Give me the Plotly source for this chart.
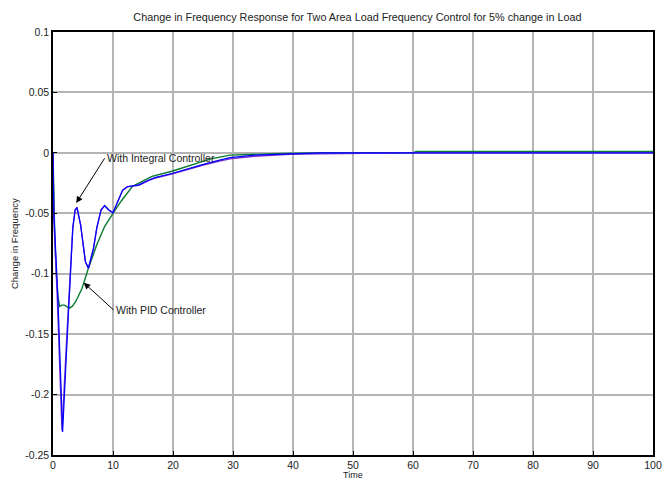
import plotly.graph_objects as go

# Integral controller (blue) response
t_int = [0, 0.15, 0.8, 1.6, 2.4, 2.95, 3.3, 3.7, 4.0, 4.6, 5.4, 5.9, 6.75, 7.3, 8.0, 8.6, 9.3,
         10.0, 10.8, 11.6, 12.4, 13.3, 14.3, 16.0, 17.0, 19.8, 22.2, 24.9, 27.6, 29.5, 33.6,
         39.5, 44.4, 50, 60, 70, 80, 90, 100]
f_int = [0, -0.05, -0.118, -0.231, -0.15, -0.1, -0.062, -0.047, -0.045, -0.0595, -0.09, -0.0955,
         -0.079, -0.062, -0.0473, -0.0437, -0.0473, -0.0495, -0.040, -0.031, -0.028, -0.0275,
         -0.0265, -0.0225, -0.0205, -0.0171, -0.0135, -0.0098, -0.0062, -0.0040, -0.0019,
         -0.0008, 0, 0, 0, 0, 0, 0, 0]

# Integral controller, second trace (purple)
t_int2 = [0, 0.1, 0.7, 1.5, 2.3, 2.9, 3.3, 3.7, 4.0, 4.6, 5.4, 5.9, 6.75, 7.3, 8.0, 8.6, 9.3,
          10.0, 10.8, 11.6, 12.4, 13.3, 14.3, 16.0, 17.0, 19.8, 22.2, 24.9, 27.6, 29.5, 33.6,
          39.5, 44.4, 50, 60, 70, 80, 90, 100]
f_int2 = [0, -0.05, -0.118, -0.230, -0.152, -0.1, -0.062, -0.047, -0.046, -0.0595, -0.09, -0.0955,
          -0.079, -0.062, -0.0473, -0.0437, -0.0473, -0.0495, -0.040, -0.031, -0.028, -0.0275,
          -0.0268, -0.0228, -0.0208, -0.0175, -0.0140, -0.0104, -0.0070, -0.0050, -0.0028,
          -0.0012, -0.0008, -0.0003, 0, 0, 0, 0, 0]

# PID controller (green) response
t_pid = [0, 0.1, 0.3, 0.5, 0.8, 1.1, 1.5, 1.9, 2.3, 2.7, 3.2, 3.8, 4.85, 5.9, 7.3, 8.6, 10.0,
         11.35, 13.25, 16.5, 19.8, 22.5, 26.3, 29.5, 35, 40, 45, 50, 60, 60.5, 70, 80, 90, 100]
f_pid = [0, -0.03, -0.07, -0.095, -0.118, -0.127, -0.126, -0.126, -0.127, -0.1285, -0.127,
         -0.123, -0.112, -0.0955, -0.076, -0.061, -0.050, -0.040, -0.0277, -0.0194, -0.0152,
         -0.011, -0.005, -0.0019, -0.0008, -0.0002, 0, 0, 0, 0.0012, 0.0012, 0.0012, 0.0012, 0.0012]

x_ticks = [0, 10, 20, 30, 40, 50, 60, 70, 80, 90, 100]
y_ticks = [0.1, 0.05, 0, -0.05, -0.1, -0.15, -0.2, -0.25]
y_tick_text = ["0.1", "0.05", "0", "-0.05", "-0.1", "-0.15", "-0.2", "-0.25"]

title_text = "Change in Frequency Response for Two Area Load Frequency Control for 5% change in Load"
x_label = "Time"
y_label = "Change in Frequency"
ann_int = "With Integral Controller"
ann_pid = "With PID Controller"

FONT = "Liberation Sans, Arial, sans-serif"
TXT = "#222"

fig = go.Figure()
fig.add_trace(go.Scatter(x=t_pid, y=f_pid, mode="lines",
                         line=dict(color="#0a7a30", width=1.4), showlegend=False))
fig.add_trace(go.Scatter(x=t_int2, y=f_int2, mode="lines",
                         line=dict(color="#7b30d0", width=1.4), showlegend=False))
fig.add_trace(go.Scatter(x=t_int, y=f_int, mode="lines",
                         line=dict(color="#0000ff", width=1.2), showlegend=False))

axis_common = dict(
    showline=True, linecolor="black", linewidth=1.5, mirror=True,
    showgrid=True, gridcolor="#b4b4b4", gridwidth=1.5,
    ticks="inside", ticklen=4, tickcolor="black", tickwidth=1,
    zeroline=False, tickfont=dict(family=FONT, size=10.5, color=TXT),
)

fig.update_layout(
    width=670, height=479,
    margin=dict(l=53, r=8, t=32, b=24),
    paper_bgcolor="white", plot_bgcolor="white",
    font=dict(family=FONT, size=10, color=TXT),
    title=dict(text=title_text, x=0.5335, xanchor="center", y=1 - 17 / 479, yanchor="middle",
               font=dict(family=FONT, size=10.8, color=TXT)),
    xaxis=dict(range=[0, 100], tickvals=x_ticks, **axis_common),
    yaxis=dict(range=[-0.25, 0.1], tickvals=y_ticks, ticktext=y_tick_text, **axis_common),
    annotations=[
        dict(text=x_label, xref="paper", yref="paper", x=0.5, y=-0.0463, xanchor="center",
             yanchor="middle", showarrow=False, font=dict(family=FONT, size=9, color=TXT)),
        dict(text=y_label, xref="paper", yref="paper", x=-0.064, y=0.5, xanchor="center",
             yanchor="middle", textangle=-90, showarrow=False,
             font=dict(family=FONT, size=9.5, color=TXT)),
        dict(text=ann_int, x=3.87, y=-0.0415, xref="x", yref="y",
             ax=8.6, ay=-0.0045, axref="x", ayref="y",
             showarrow=True, arrowhead=2, arrowsize=1.3, arrowwidth=1, arrowcolor="black",
             xanchor="left", yanchor="middle", font=dict(family=FONT, size=10.5, color=TXT)),
        dict(text=ann_pid, x=5.12, y=-0.1074, xref="x", yref="y",
             ax=10.1, ay=-0.130, axref="x", ayref="y",
             showarrow=True, arrowhead=2, arrowsize=1.3, arrowwidth=1, arrowcolor="black",
             xanchor="left", yanchor="middle", font=dict(family=FONT, size=10.5, color=TXT)),
    ],
)

fig.write_html("out.html")
